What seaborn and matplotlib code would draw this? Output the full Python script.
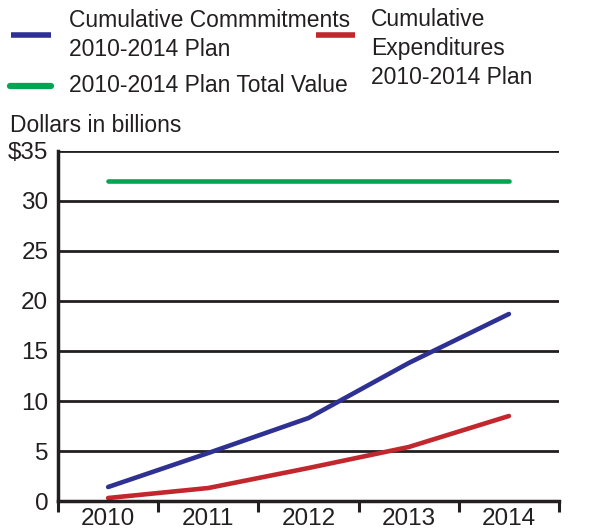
import matplotlib
matplotlib.use("Agg")
import matplotlib.pyplot as plt
import seaborn as sns
import pandas as pd
from matplotlib.lines import Line2D

years = ["2010", "2011", "2012", "2013", "2014"]
commitments = [1.4, 4.8, 8.3, 13.8, 18.7]
expenditures = [0.3, 1.3, 3.3, 5.4, 8.5]
total_value = [32, 32, 32, 32, 32]

label_commit = "Cumulative Commmitments\n2010-2014 Plan"
label_expend = "Cumulative\nExpenditures\n2010-2014 Plan"
label_total = "2010-2014 Plan Total Value"

colors = {label_commit: "#2e3192", label_expend: "#c1272d", label_total: "#00a651"}
ink = "#231f20"

df = pd.DataFrame({
    "year": years * 3,
    "value": commitments + expenditures + total_value,
    "series": [label_commit] * 5 + [label_expend] * 5 + [label_total] * 5,
})
df["x"] = df["year"].map({y: i for i, y in enumerate(years)})

sns.set_theme(style="white")
plt.rcParams["font.family"] = ["Liberation Sans", "DejaVu Sans"]

W, H = 600, 529
fig = plt.figure(figsize=(W / 100, H / 100), dpi=100)
ax = fig.add_axes([0.0967, 0.0529, 0.835, 0.6617])

sns.lineplot(data=df, x="x", y="value", hue="series", palette=colors,
             linewidth=3.3, ax=ax, legend=False, solid_capstyle="round")

ax.set_xlim(-0.5, 4.5)
ax.set_ylim(0, 35)

# horizontal rules
for v in range(5, 40, 5):
    ax.axhline(v, color=ink, linewidth=2, zorder=0)

ax.set_yticks(range(0, 40, 5))
ax.set_yticklabels(["0", "5", "10", "15", "20", "25", "30", "$35"], fontsize=17.5, color=ink)
ax.tick_params(axis="y", left=False, length=0, pad=7)

# category labels centered, tick marks at boundaries
ax.set_xticks(range(5))
ax.set_xticklabels(years, fontsize=17.5, color=ink)
ax.set_xticks([i - 0.5 for i in range(6)], minor=True)
ax.tick_params(axis="x", which="major", bottom=False, length=0, pad=5)
ax.tick_params(axis="x", which="minor", bottom=True, length=8, width=2.2,
               color=ink, direction="out")
ax.set_xlabel("")
ax.set_ylabel("")

for side in ["top", "right"]:
    ax.spines[side].set_visible(False)
for side in ["left", "bottom"]:
    ax.spines[side].set_color(ink)
    ax.spines[side].set_linewidth(2.5)

fig.text(10 / W, 1 - 125 / H, "Dollars in billions", fontsize=16.5, color=ink, va="center")


# legend keys: (x0, x1, y) in pixels from the top-left, plus label placement
def key(x0, x1, y, color, lw=4):
    fig.add_artist(Line2D([x0 / W, x1 / W], [1 - y / H, 1 - y / H],
                          transform=fig.transFigure, color=color, linewidth=lw,
                          solid_capstyle="round" if color == colors[label_total] else "butt"))


def label(x, y, text):
    fig.text(x / W, 1 - y / H, text, fontsize=16.5, color=ink, va="center",
             ha="left", linespacing=1.33)


key(11, 51, 35, colors[label_commit])
label(69, 35, label_commit)
key(10, 51, 86, colors[label_total], lw=4.5)
label(69, 86, label_total)
key(316, 355, 35, colors[label_expend])
label(371, 48.5, label_expend)

fig.savefig("out.png", dpi=100)
